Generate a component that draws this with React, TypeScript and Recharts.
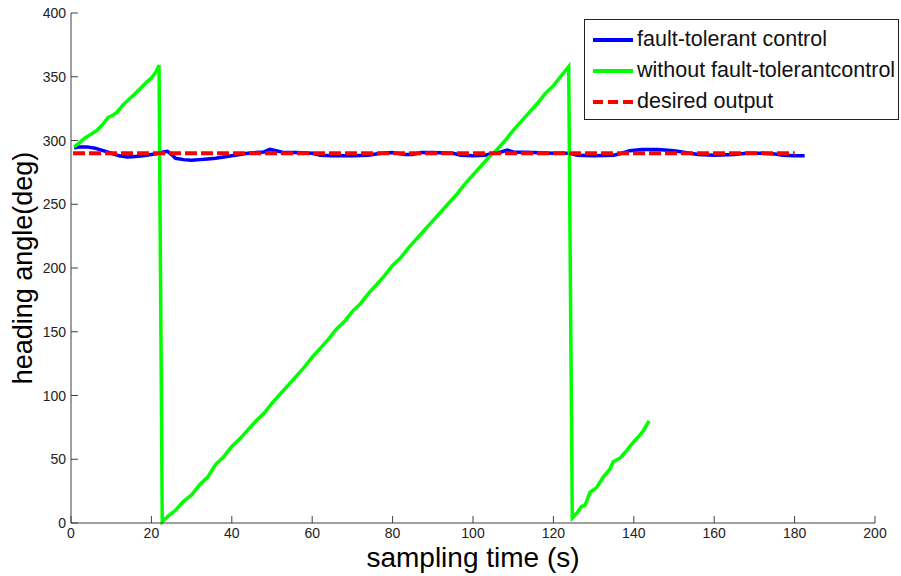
import { Line, LineChart, XAxis, YAxis } from "recharts";

// sampling time (s) and heading angle (deg)
const blueTime = [0.8, 2, 4, 6, 8, 10, 12, 14, 16, 18, 20, 22, 23, 24, 25, 26, 28, 30, 32, 34, 36, 38, 40, 42, 44, 46, 48, 49.5, 51, 53, 56, 60, 62, 65, 70, 74, 77, 80, 83, 85, 87, 90, 95, 97, 100, 103, 105, 107, 108.5, 110, 115, 120, 124, 126, 130, 135, 137, 139, 142, 146, 150, 152, 154, 156, 160, 165, 168, 172, 175, 177, 180, 182.5];
const blueAngle = [294, 295, 295, 294, 292, 290, 288, 287, 287.5, 288, 289, 290, 291, 291.5, 289, 286, 285, 284.5, 285, 285.5, 286, 287, 288, 289, 290, 290.5, 291, 293, 292, 290.5, 290.5, 290, 288.5, 288, 288, 288.5, 290, 290.5, 289, 289, 290.5, 290.5, 290, 288.5, 288, 288.5, 290, 291, 292.5, 291, 290.5, 290, 290, 288.5, 288, 288.5, 290, 292, 293, 293, 292, 291, 290, 289, 288.5, 289, 290, 290, 289.5, 288.5, 288, 288];

const greenTime = [0.8, 2, 3.5, 5, 6.5, 8, 9.2, 10.5, 11.4, 13, 15, 17, 18.9, 20, 21, 21.9, 22.7, 24, 26, 28, 30, 32, 34, 36, 38, 40, 42, 44, 46, 48, 50, 52, 54, 56, 58, 60, 62, 64, 66, 68, 70, 72, 74, 76, 78, 80, 82, 84, 86, 88, 90, 92, 94, 96, 98, 100, 102, 104, 106, 108, 110, 112, 114, 116, 118, 120, 122, 123.8, 124.7, 125.9, 127, 127.9, 129.1, 130.8, 132.4, 134, 134.9, 136.6, 138, 139.8, 141, 142.3, 143.8];
const greenAngle = [295, 298, 302, 305, 308, 313, 318, 320, 322, 328, 334, 340, 346, 349, 353, 359, 1, 5, 10, 17, 22, 30, 36, 46, 52, 60, 66, 73, 80, 86, 94, 101, 108, 115, 122, 130, 137, 144, 152, 158, 166, 172, 180, 187, 194, 202, 208, 216, 223, 230, 237, 244, 251, 258, 266, 273, 280, 287, 293, 300, 308, 315, 322, 329, 337, 343, 351, 358, 4, 8, 13, 14, 24, 28, 36, 42, 48, 51, 56, 63, 67, 72, 80];

const redTime = [0.5, 180];
const redAngle = [290, 290];

const xTicks = [0, 20, 40, 60, 80, 100, 120, 140, 160, 180, 200];
const yTicks = [0, 50, 100, 150, 200, 250, 300, 350, 400];

const legendItems = [
  { label: "fault-tolerant control", color: "#0000ff", dash: undefined },
  { label: "without fault-tolerantcontrol", color: "#00ff00", dash: undefined },
  { label: "desired output", color: "#ff0000", dash: "10 5" },
];

const blueData = blueTime.map((t, i) => ({ t, v: blueAngle[i] }));
const greenData = greenTime.map((t, i) => ({ t, v: greenAngle[i] }));
const redData = redTime.map((t, i) => ({ t, v: redAngle[i] }));

const FONT = "'Liberation Sans', Arial, sans-serif";
const AXIS = "#404040";

function XTick(props: any) {
  const { x, y, payload } = props;
  return (
    <g>
      <line x1={x} y1={y} x2={x} y2={y - 7} stroke={AXIS} strokeWidth={1} />
      <text x={x} y={y + 15} textAnchor="middle" fontSize={14} fontFamily={FONT} fill="#222">
        {payload.value}
      </text>
    </g>
  );
}

function YTick(props: any) {
  const { x, y, payload } = props;
  return (
    <g>
      <line x1={x} y1={y} x2={x + 7} y2={y} stroke={AXIS} strokeWidth={1} />
      <text x={x - 5} y={y + 5} textAnchor="end" fontSize={14} fontFamily={FONT} fill="#222">
        {payload.value}
      </text>
    </g>
  );
}

function LegendBox() {
  return (
    <div
      style={{
        position: "absolute",
        left: 584,
        top: 19,
        width: 315,
        height: 101,
        border: "1px solid #222",
        background: "#fff",
        boxSizing: "border-box",
        fontFamily: FONT,
        paddingTop: 4,
      }}
    >
      {legendItems.map((it) => (
        <div key={it.label} style={{ display: "flex", alignItems: "center", height: 31 }}>
          <svg width={52} height={10} style={{ flex: "none" }}>
            <line x1={8} y1={5} x2={48} y2={5} stroke={it.color} strokeWidth={4} strokeDasharray={it.dash} />
          </svg>
          <span style={{ fontSize: 21.5, color: "#111", whiteSpace: "nowrap" }}>{it.label}</span>
        </div>
      ))}
    </div>
  );
}

export default function App() {
  return (
    <div style={{ position: "absolute", left: 0, top: 0, width: 901, height: 576, background: "#fff" }}>
      <LineChart width={901} height={576} margin={{ top: 13, right: 26, left: 0, bottom: 0 }}>
        <XAxis
          type="number"
          dataKey="t"
          domain={[0, 200]}
          ticks={xTicks}
          height={53}
          tickSize={0}
          tickMargin={0}
          stroke={AXIS}
          tick={<XTick />}
          allowDuplicatedCategory={false}
          label={{ value: "sampling time (s)", position: "insideBottom", offset: 9, fontSize: 28, fontFamily: FONT, fill: "#000" }}
        />
        <YAxis
          type="number"
          dataKey="v"
          domain={[0, 400]}
          ticks={yTicks}
          width={71}
          tickSize={0}
          tickMargin={0}
          stroke={AXIS}
          tick={<YTick />}
          label={{ value: "heading angle(deg)", angle: -90, position: "insideLeft", offset: 22, fontSize: 27, fontFamily: FONT, fill: "#000", style: { textAnchor: "middle" } }}
        />
        <Line data={blueData} dataKey="v" stroke="#0000ff" strokeWidth={3.5} dot={false} isAnimationActive={false} type="linear" />
        <Line data={greenData} dataKey="v" stroke="#00ff00" strokeWidth={3.5} dot={false} isAnimationActive={false} type="linear" />
        <Line data={redData} dataKey="v" stroke="#ff0000" strokeWidth={4} strokeDasharray="12 4" dot={false} isAnimationActive={false} type="linear" />
      </LineChart>
      <LegendBox />
    </div>
  );
}
